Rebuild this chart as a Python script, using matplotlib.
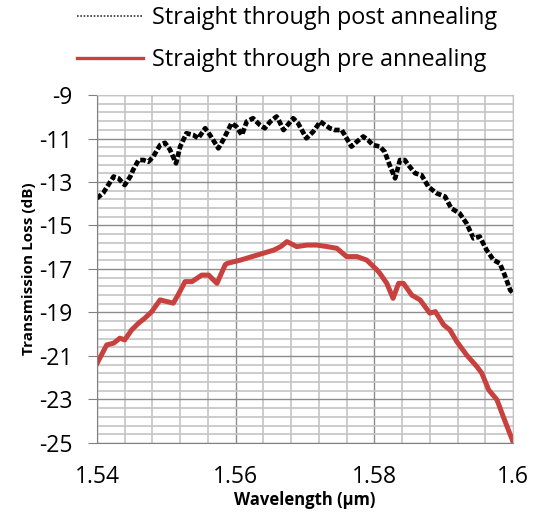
import numpy as np
import matplotlib.pyplot as plt
from matplotlib.lines import Line2D

# wavelength (um) and loss (dB)
wl_post = [1.5400, 1.5409, 1.5424, 1.5431, 1.5440, 1.5448, 1.5452, 1.5460, 1.5467, 1.5474,
           1.5481, 1.5491, 1.5498, 1.5505, 1.5514, 1.5520, 1.5529, 1.5539, 1.5546, 1.5556,
           1.5563, 1.5575, 1.5582, 1.5594, 1.5601, 1.5609, 1.5616, 1.5625, 1.5635, 1.5642,
           1.5650, 1.5659, 1.5662, 1.5669, 1.5683, 1.5690, 1.5702, 1.5712, 1.5722, 1.5729,
           1.5736, 1.5743, 1.5753, 1.5760, 1.5767, 1.5775, 1.5784, 1.5791, 1.5798, 1.5808,
           1.5815, 1.5823, 1.5830, 1.5837, 1.5844, 1.5849, 1.5859, 1.5868, 1.5878, 1.5890,
           1.5902, 1.5911, 1.5923, 1.5933, 1.5943, 1.5952, 1.5962, 1.5972, 1.5981, 1.5988,
           1.5996, 1.6000]
loss_post = [-13.75, -13.50, -12.75, -12.83, -13.14, -12.75, -12.45, -11.99, -11.99, -12.07,
             -11.84, -11.30, -11.20, -11.50, -12.14, -11.37, -10.76, -10.84, -10.99, -10.53,
             -10.84, -11.45, -11.07, -10.30, -10.45, -10.84, -10.22, -10.07, -10.38, -10.53,
             -10.22, -9.99, -10.15, -10.61, -10.07, -10.30, -10.99, -10.68, -10.22, -10.38,
             -10.53, -10.61, -10.61, -10.99, -11.37, -11.14, -10.91, -11.07, -11.30, -11.37,
             -11.61, -12.30, -12.83, -11.99, -11.99, -12.22, -12.60, -12.68, -13.22, -13.52,
             -13.67, -14.21, -14.44, -14.90, -15.59, -15.51, -16.13, -16.59, -16.74, -17.28,
             -17.97, -18.10]

wl_pre = [1.5400, 1.5414, 1.5424, 1.5433, 1.5440, 1.5450, 1.5460, 1.5469, 1.5479, 1.5491,
          1.5501, 1.5510, 1.5517, 1.5527, 1.5537, 1.5551, 1.5561, 1.5573, 1.5585, 1.5588,
          1.5607, 1.5631, 1.5655, 1.5665, 1.5674, 1.5688, 1.5703, 1.5717, 1.5732, 1.5746,
          1.5760, 1.5775, 1.5789, 1.5804, 1.5808, 1.5818, 1.5827, 1.5835, 1.5842, 1.5854,
          1.5866, 1.5880, 1.5888, 1.5900, 1.5909, 1.5919, 1.5933, 1.5948, 1.5955, 1.5965,
          1.5977, 1.5986, 1.6000]
loss_pre = [-21.34, -20.49, -20.41, -20.18, -20.26, -19.80, -19.49, -19.26, -18.96, -18.42,
            -18.50, -18.57, -18.19, -17.58, -17.58, -17.28, -17.28, -17.66, -16.80, -16.74,
            -16.59, -16.36, -16.13, -15.97, -15.74, -15.97, -15.90, -15.90, -15.97, -16.05,
            -16.43, -16.43, -16.59, -17.05, -17.20, -17.66, -18.35, -17.66, -17.66, -18.20,
            -18.42, -19.03, -18.96, -19.57, -19.80, -20.34, -20.95, -21.49, -21.79, -22.56,
            -23.02, -23.79, -24.94]

x_ticks = [1.54, 1.56, 1.58, 1.6]
x_labels = ['1.54', '1.56', '1.58', '1.6']
y_ticks = [-25, -23, -21, -19, -17, -15, -13, -11, -9]
y_labels = ['-25', '-23', '-21', '-19', '-17', '-15', '-13', '-11', '-9']

plt.rcParams['font.family'] = ['Open Sans', 'DejaVu Sans']

fig = plt.figure(figsize=(5.38, 5.18), dpi=100)
ax = fig.add_axes([0.1803, 0.1448, 0.7732, 0.6718])

ax.plot(wl_post, loss_post, color='black', lw=3.4, ls=(0, (1.2, 0.5)))
ax.plot(wl_pre, loss_pre, color='#c9413f', lw=3.6)

ax.set_xlim(1.54, 1.6)
ax.set_ylim(-25, -9)
ax.set_xticks(x_ticks, x_labels)
ax.set_xticks(np.linspace(1.54, 1.6, 16), minor=True)
ax.set_yticks(y_ticks, y_labels)
ax.set_yticks(np.linspace(-25, -9, 41), minor=True)

ax.grid(which='major', color='#8c8c8c', lw=1.0)
ax.grid(which='minor', color='#c4c4c4', lw=1.2)
ax.set_axisbelow(True)

for s in ['top', 'right']:
    ax.spines[s].set_color('#c4c4c4')
for s in ['left', 'bottom']:
    ax.spines[s].set_color('#808080')
ax.tick_params(which='minor', length=0)
ax.tick_params(axis='y', which='major', length=6.5, color='#808080', labelsize=16.5, pad=11)
ax.tick_params(axis='x', which='major', length=0, labelsize=16.5, pad=16)

ax.set_xlabel('Wavelength (µm)', fontsize=12, fontweight='bold', labelpad=1)
ax.set_ylabel('Transmission Loss (dB)', fontsize=11, fontweight='bold', labelpad=2)

handles = [Line2D([], [], color='#333333', lw=1.2, ls=(0, (1, 1))),
           Line2D([], [], color='#c9413f', lw=2.4)]
fig.legend(handles, ['Straight through post annealing', 'Straight through pre annealing'],
           loc='upper left', bbox_to_anchor=(77 / 538, 0.988), frameon=False, fontsize=16.8,
           handlelength=2.83, handletextpad=0.39, labelspacing=0.78,
           borderpad=0, borderaxespad=0)

fig.savefig('out.png', dpi=100)
